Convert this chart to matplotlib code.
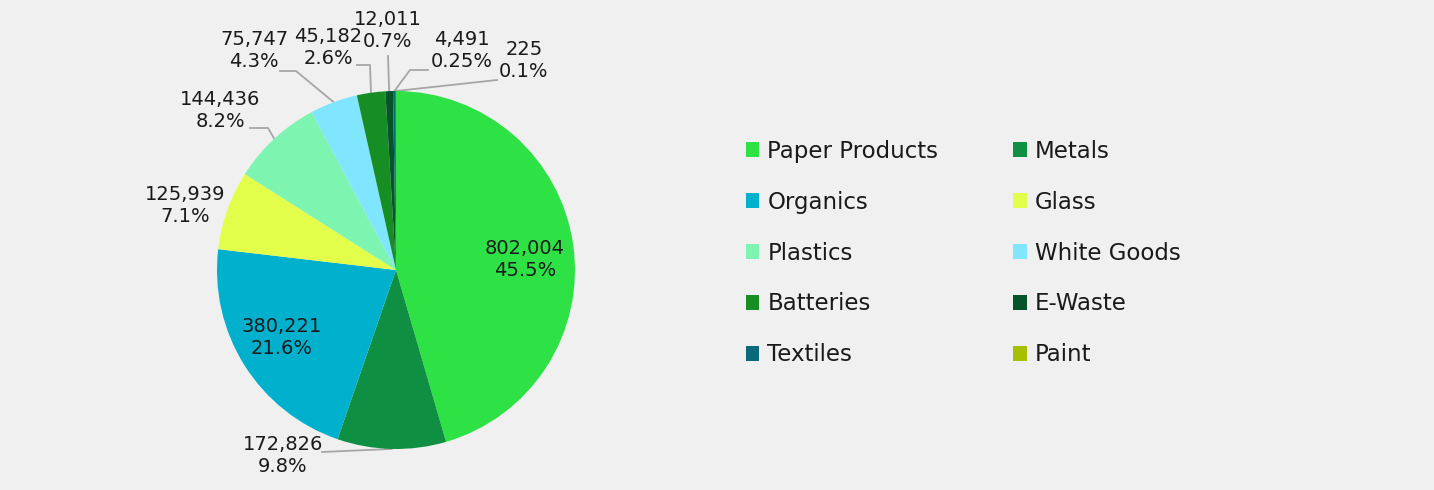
import matplotlib
matplotlib.use("Agg")
import matplotlib.pyplot as plt
from matplotlib.patches import Patch
import numpy as np

categories = ["Paper Products", "Metals", "Organics", "Glass", "Plastics",
              "White Goods", "Batteries", "E-Waste", "Textiles", "Paint"]
values = [802004, 172826, 380221, 125939, 144436, 75747, 45182, 12011, 4491, 225]
value_labels = ["802,004", "172,826", "380,221", "125,939", "144,436",
                "75,747", "45,182", "12,011", "4,491", "225"]
pct_labels = ["45.5%", "9.8%", "21.6%", "7.1%", "8.2%",
              "4.3%", "2.6%", "0.7%", "0.25%", "0.1%"]
colors = ["#2ee246", "#0e8f42", "#00b0cc", "#e2fe4a", "#7df5b0",
          "#80e5ff", "#168e24", "#06552a", "#0a6a7a", "#a6c000"]

plt.rcParams['font.family'] = ['DejaVu Sans']
BG = "#f0f0f0"
W, H = 1434, 490
fig = plt.figure(figsize=(W / 100, H / 100), dpi=100, facecolor=BG)

cx, cy, r = 396, 270, 179
ax = fig.add_axes([(cx - r) / W, (H - cy - r) / H, 2 * r / W, 2 * r / H])
ax.set_facecolor(BG)
wedges, _ = ax.pie(values, colors=colors, startangle=90, counterclock=False,
                   radius=1.0, wedgeprops=dict(linewidth=0))
ax.set_xlim(-1, 1)
ax.set_ylim(-1, 1)
ax.set_aspect('equal')
ax.axis('off')

def px(x, y):
    return ((x - cx) / r, (cy - y) / r)

fs = 14
txtc = "#1a1a1a"
linec = "#a6a6a6"

# inside labels
inside = {0: (525, 259), 2: (282, 338)}
for i, (x, y) in inside.items():
    ax.text(*px(x, y), value_labels[i] + "\n" + pct_labels[i], ha='center', va='center',
            fontsize=fs, color=txtc, linespacing=1.2)

# outside labels: text position and leader line path (pixels)
outside = {
    1: ((283, 455), [(322, 452), None]),
    3: ((185, 205), None),
    4: ((220, 110), [(250, 128), (268, 128), None]),
    5: ((254, 50), [(280, 71), (296, 71), None]),
    6: ((328, 47), [(357, 65), (370, 65), None]),
    7: ((388, 30), [(388, 56), None]),
    8: ((462, 50), [(428, 70), (410, 70), None]),
    9: ((524, 60), [(497, 80), None]),
}
for i, (tpos, path) in outside.items():
    ax.text(*px(*tpos), value_labels[i] + "\n" + pct_labels[i], ha='center', va='center',
            fontsize=fs, color=txtc, linespacing=1.2, clip_on=False)
    if path:
        w = wedges[i]
        ang = np.deg2rad((w.theta1 + w.theta2) / 2)
        ex, ey = np.cos(ang), np.sin(ang)
        pts = [px(*p) if p is not None else (ex, ey) for p in path]
        xs, ys = zip(*pts)
        ax.plot(xs, ys, color=linec, lw=1.3, clip_on=False, zorder=0.5)

handles = [Patch(facecolor=c, edgecolor='none') for c in colors]
order = [0, 2, 4, 6, 8, 1, 3, 5, 7, 9]
fig.legend([handles[k] for k in order], [categories[k] for k in order], ncol=2,
           loc='center left', bbox_to_anchor=(725 / W, (H - 253) / H), frameon=False,
           fontsize=16.5, handlelength=0.6, handleheight=0.6, handletextpad=0.35,
           columnspacing=3.25, labelspacing=1.22, labelcolor=txtc)

fig.savefig("out.png", dpi=100, facecolor=BG)
